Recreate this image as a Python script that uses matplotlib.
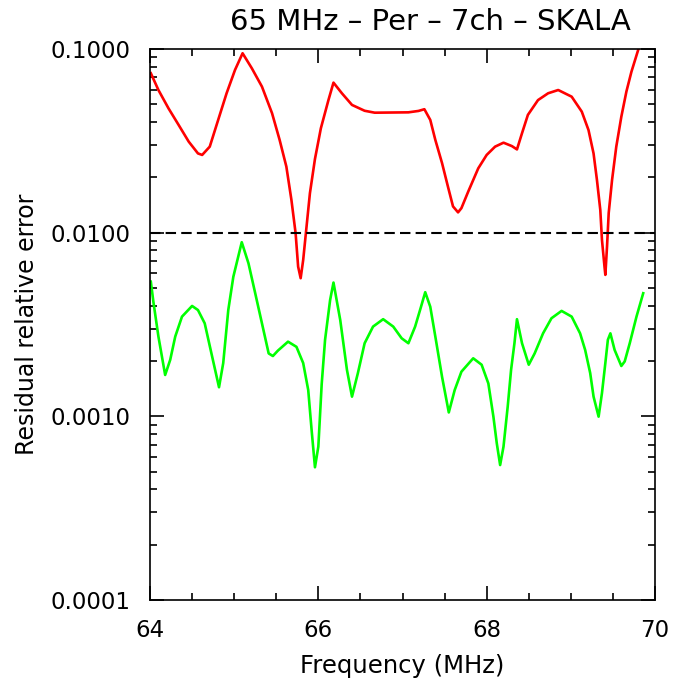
import matplotlib
matplotlib.use('Agg')
import matplotlib.pyplot as plt
from matplotlib.ticker import FixedLocator, LogLocator, NullFormatter, MultipleLocator

# red curve: residual relative error before correction
freq_red = [64.01, 64.10, 64.22, 64.34, 64.46, 64.57, 64.62, 64.71, 64.81, 64.91,
            65.01, 65.10, 65.21, 65.33, 65.45, 65.54, 65.62, 65.68, 65.73, 65.76,
            65.79, 65.82, 65.86, 65.90, 65.96, 66.03, 66.12, 66.18, 66.28, 66.40,
            66.55, 66.67, 67.07, 67.19, 67.26, 67.33, 67.39, 67.47, 67.54, 67.60,
            67.66, 67.70, 67.78, 67.90, 68.00, 68.10, 68.20, 68.30, 68.36, 68.42,
            68.49, 68.61, 68.73, 68.85, 69.01, 69.13, 69.21, 69.27, 69.31, 69.35,
            69.37, 69.40, 69.41, 69.43, 69.45, 69.49, 69.54, 69.60, 69.66, 69.72,
            69.80, 69.86]
err_red = [0.0738, 0.0598, 0.0475, 0.0386, 0.0313, 0.0270, 0.0265, 0.0294, 0.0411, 0.0574,
           0.0769, 0.0948, 0.0785, 0.0624, 0.0447, 0.0320, 0.0229, 0.0151, 0.00993, 0.00653,
           0.00565, 0.00710, 0.0108, 0.0164, 0.0252, 0.0370, 0.0527, 0.0656, 0.0574, 0.0496,
           0.0461, 0.0450, 0.0452, 0.0460, 0.0470, 0.0411, 0.0320, 0.0239, 0.0178, 0.0139,
           0.0129, 0.0136, 0.0167, 0.0224, 0.0265, 0.0294, 0.0309, 0.0296, 0.0284, 0.0348,
           0.0438, 0.0527, 0.0574, 0.0598, 0.0550, 0.0456, 0.0362, 0.0270, 0.0194, 0.0133,
           0.00912, 0.00653, 0.00589, 0.00840, 0.0128, 0.0194, 0.0294, 0.0428, 0.0586, 0.0752,
           0.0988, 0.125]

# green curve: residual relative error after correction
freq_green = [64.01, 64.04, 64.10, 64.18, 64.24, 64.30, 64.38, 64.50, 64.57, 64.65,
              64.73, 64.82, 64.87, 64.93, 64.99, 65.09, 65.17, 65.25, 65.33, 65.41,
              65.46, 65.52, 65.64, 65.74, 65.82, 65.88, 65.92, 65.96, 66.00, 66.04,
              66.08, 66.14, 66.18, 66.26, 66.34, 66.40, 66.47, 66.55, 66.65, 66.77,
              66.89, 66.99, 67.07, 67.15, 67.22, 67.27, 67.33, 67.39, 67.47, 67.55,
              67.62, 67.70, 67.84, 67.94, 68.02, 68.08, 68.12, 68.16, 68.20, 68.25,
              68.29, 68.33, 68.36, 68.42, 68.50, 68.57, 68.67, 68.77, 68.89, 69.01,
              69.11, 69.17, 69.23, 69.27, 69.33, 69.37, 69.41, 69.44, 69.47, 69.52,
              69.60, 69.64, 69.70, 69.78, 69.86]
err_green = [0.00541, 0.00421, 0.00272, 0.00168, 0.00203, 0.00272, 0.00349, 0.00399, 0.00379, 0.00321,
             0.00220, 0.00144, 0.00195, 0.00379, 0.00575, 0.00887, 0.00681, 0.00468, 0.00321, 0.00220,
             0.00213, 0.00228, 0.00255, 0.00239, 0.00195, 0.00139, 0.000843, 0.000528, 0.000684, 0.00150,
             0.00261, 0.00430, 0.00535, 0.00335, 0.00179, 0.00128, 0.00172, 0.00250, 0.00308, 0.00338,
             0.00308, 0.00266, 0.00250, 0.00308, 0.00395, 0.00474, 0.00395, 0.00272, 0.00164, 0.00105,
             0.00139, 0.00175, 0.00207, 0.00191, 0.00151, 0.000996, 0.000714, 0.000543, 0.000684, 0.00113,
             0.00179, 0.00250, 0.00338, 0.00250, 0.00191, 0.00220, 0.00283, 0.00342, 0.00375, 0.00349,
             0.00283, 0.00230, 0.00172, 0.00128, 0.000996, 0.00134, 0.00195, 0.00261, 0.00283, 0.00230,
             0.00188, 0.00199, 0.00250, 0.00349, 0.00468]

threshold = 0.01
x_ticks = [64, 66, 68, 70]
y_ticks = [0.0001, 0.001, 0.01, 0.1]

plt.rcParams['font.family'] = 'DejaVu Sans'

fig = plt.figure(figsize=(7, 7), dpi=100)
ax = fig.add_axes([150/700, 100/700, 505/700, 551/700])

ax.plot(freq_red, err_red, color='#ff0000', lw=1.9)
ax.plot(freq_green, err_green, color='#00ff00', lw=1.9)
ax.axhline(threshold, color='black', lw=1.5, ls=(0, (5, 2.5)))

ax.set_yscale('log')
ax.set_xlim(64, 70)
ax.set_ylim(1e-4, 1e-1)

ax.xaxis.set_major_locator(FixedLocator(x_ticks))
ax.xaxis.set_minor_locator(MultipleLocator(0.5))
ax.set_xticklabels([str(t) for t in x_ticks])
ax.yaxis.set_major_locator(FixedLocator(y_ticks))
ax.yaxis.set_minor_locator(LogLocator(base=10, subs=range(2, 10)))
ax.yaxis.set_minor_formatter(NullFormatter())
ax.set_yticklabels(['%.4f' % t for t in y_ticks])

ax.tick_params(which='both', direction='in', top=True, right=True, width=1.2,
               labelsize=16.5, colors='black')
ax.tick_params(which='major', length=10, pad=14)
ax.tick_params(which='minor', length=5)
for s in ax.spines.values():
    s.set_linewidth(1.2)

ax.set_title('65 MHz \u2013 Per \u2013 7ch \u2013 SKALA', fontsize=21, pad=14, x=0.555)
ax.set_xlabel('Frequency (MHz)', fontsize=17.5, labelpad=8)
ax.set_ylabel('Residual relative error', fontsize=17, labelpad=8)

fig.savefig('out.png', dpi=100)
